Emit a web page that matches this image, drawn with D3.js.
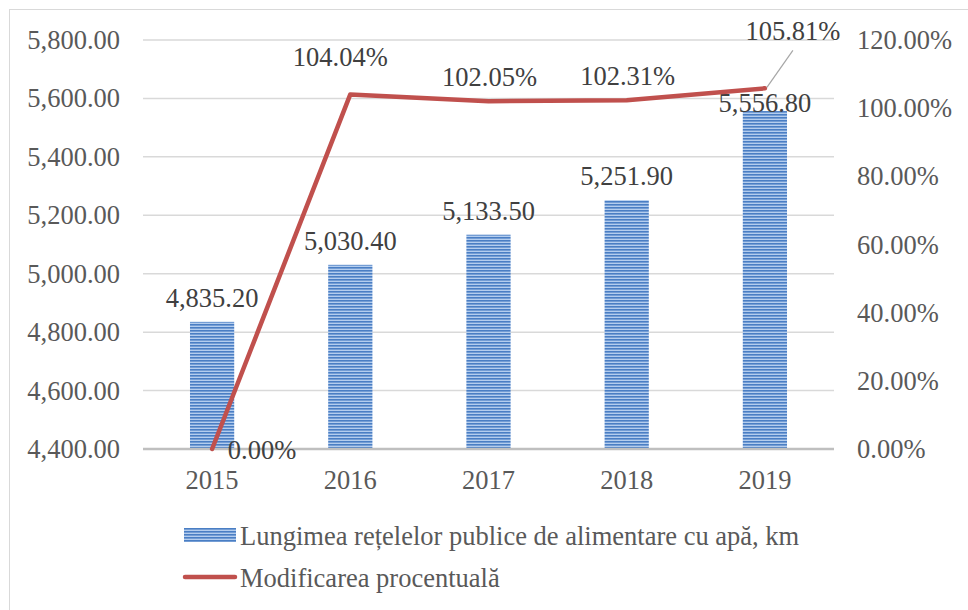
<!DOCTYPE html>
<html>
<head>
<meta charset="utf-8">
<script src="https://cdn.jsdelivr.net/npm/d3@7"></script>
<style>
  body { margin: 0; background: #fff; }
  text { font-family: "Liberation Serif", "Times New Roman", serif; }
</style>
</head>
<body>
<div id="chart"></div>
<script>
var years = ["2015", "2016", "2017", "2018", "2019"];
var lengthKm = [4835.2, 5030.4, 5133.5, 5251.9, 5556.8];
var pctChange = [0, 104.04, 102.05, 102.31, 105.81];
var leftTicks = [4400, 4600, 4800, 5000, 5200, 5400, 5600, 5800];
var rightTicks = [0, 20, 40, 60, 80, 100, 120];
var legendNames = ["Lungimea rețelelor publice de alimentare cu apă, km", "Modificarea procentuală"];

var w = 968, h = 610;
var plotLeft = 143, plotRight = 834, plotTop = 40, plotBottom = 449;
var fs = 26.5;

var svg = d3.select("#chart").append("svg")
    .attr("width", w)
    .attr("height", h);

// striped fill for the bars
var defs = svg.append("defs");
var pat = defs.append("pattern")
    .attr("id", "stripes")
    .attr("patternUnits", "userSpaceOnUse")
    .attr("width", 8).attr("height", 3);
pat.append("rect").attr("width", 8).attr("height", 3).attr("fill", "#b4cdee");
pat.append("rect").attr("y", 0).attr("width", 8).attr("height", 1.6).attr("fill", "#4a7ec4");

// outer border
svg.append("rect")
    .attr("x", 9.5).attr("y", 9.5)
    .attr("width", 980).attr("height", 620)
    .attr("fill", "none")
    .attr("stroke", "#d9d9d9");

var x = d3.scaleBand().domain(years).range([plotLeft, plotRight]).paddingInner(0.68).paddingOuter(0.34);
var xc = d3.scaleBand().domain(years).range([plotLeft, plotRight]);
var y = d3.scaleLinear().domain([4400, 5800]).range([plotBottom, plotTop]);
var y2 = d3.scaleLinear().domain([0, 120]).range([plotBottom, plotTop]);
var cx = function(i){ return xc(years[i]) + xc.bandwidth() / 2; };

// gridlines
svg.append("g")
    .selectAll("line")
    .data(leftTicks.slice(1))
    .enter().append("line")
    .attr("x1", plotLeft).attr("x2", plotRight)
    .attr("y1", function(d){ return y(d); })
    .attr("y2", function(d){ return y(d); })
    .attr("stroke", "#d9d9d9")
    .attr("stroke-width", 1.5);

// left axis labels
svg.append("g")
    .selectAll("text")
    .data(leftTicks)
    .enter().append("text")
    .attr("x", 120)
    .attr("y", function(d){ return y(d) + 9; })
    .attr("text-anchor", "end")
    .attr("font-size", fs)
    .attr("fill", "#595959")
    .text(function(d){ return d3.format(",.2f")(d); });

// right axis labels
svg.append("g")
    .selectAll("text")
    .data(rightTicks)
    .enter().append("text")
    .attr("x", 857)
    .attr("y", function(d){ return y2(d) + 9; })
    .attr("font-size", fs)
    .attr("fill", "#595959")
    .text(function(d){ return d.toFixed(2) + "%"; });

// bars
svg.append("g")
    .selectAll("rect")
    .data(lengthKm)
    .enter().append("rect")
    .attr("x", function(d, i){ return x(years[i]); })
    .attr("y", function(d){ return y(d); })
    .attr("width", x.bandwidth())
    .attr("height", function(d){ return plotBottom - y(d); })
    .attr("fill", "url(#stripes)");

// x axis line
svg.append("line")
    .attr("x1", plotLeft).attr("x2", plotRight)
    .attr("y1", plotBottom).attr("y2", plotBottom)
    .attr("stroke", "#bfbfbf")
    .attr("stroke-width", 2.5);

// x labels
svg.append("g")
    .selectAll("text")
    .data(years)
    .enter().append("text")
    .attr("x", function(d, i){ return cx(i); })
    .attr("y", 489)
    .attr("text-anchor", "middle")
    .attr("font-size", fs)
    .attr("fill", "#595959")
    .text(function(d){ return d; });

// bar value labels (last one sits lower, pushed by the line label)
var barLblDy = [-15, -15, -15, -15, 1];
svg.append("g")
    .selectAll("text")
    .data(lengthKm)
    .enter().append("text")
    .attr("x", function(d, i){ return cx(i); })
    .attr("y", function(d, i){ return y(d) + barLblDy[i]; })
    .attr("text-anchor", "middle")
    .attr("font-size", fs)
    .attr("fill", "#404040")
    .text(function(d){ return d3.format(",.2f")(d); });

// line
var line = d3.line()
    .x(function(d, i){ return cx(i); })
    .y(function(d){ return y2(d); });

svg.append("path")
    .datum(pctChange)
    .attr("d", line)
    .attr("fill", "none")
    .attr("stroke", "#c0504d")
    .attr("stroke-width", 4.5)
    .attr("stroke-linejoin", "round")
    .attr("stroke-linecap", "round");

// line labels (offsets as in the original)
var lblDx = [50, -10, 1, 1, 28];
var lblDy = [10, -28, -15, -15, -48];

// leader line for last label
svg.append("line")
    .attr("x1", cx(4) + 2).attr("y1", y2(pctChange[4]) - 1)
    .attr("x2", cx(4) + 28).attr("y2", y2(pctChange[4]) - 38)
    .attr("stroke", "#a6a6a6")
    .attr("stroke-width", 1.2);

svg.append("g")
    .selectAll("text")
    .data(pctChange)
    .enter().append("text")
    .attr("x", function(d, i){ return cx(i) + lblDx[i]; })
    .attr("y", function(d, i){ return y2(d) + lblDy[i]; })
    .attr("text-anchor", "middle")
    .attr("font-size", fs)
    .attr("fill", "#404040")
    .text(function(d){ return d.toFixed(2) + "%"; });

// legend
var lg = svg.append("g");
lg.append("rect")
    .attr("x", 184).attr("y", 528)
    .attr("width", 52).attr("height", 14)
    .attr("fill", "url(#stripes)");
lg.append("text")
    .attr("x", 240).attr("y", 545)
    .attr("font-size", fs)
    .attr("fill", "#595959")
    .text(legendNames[0]);
lg.append("line")
    .attr("x1", 185).attr("x2", 235)
    .attr("y1", 577).attr("y2", 577)
    .attr("stroke", "#c0504d")
    .attr("stroke-width", 4.5)
    .attr("stroke-linecap", "round");
lg.append("text")
    .attr("x", 240).attr("y", 587)
    .attr("font-size", fs)
    .attr("fill", "#595959")
    .text(legendNames[1]);
</script>
</body>
</html>
